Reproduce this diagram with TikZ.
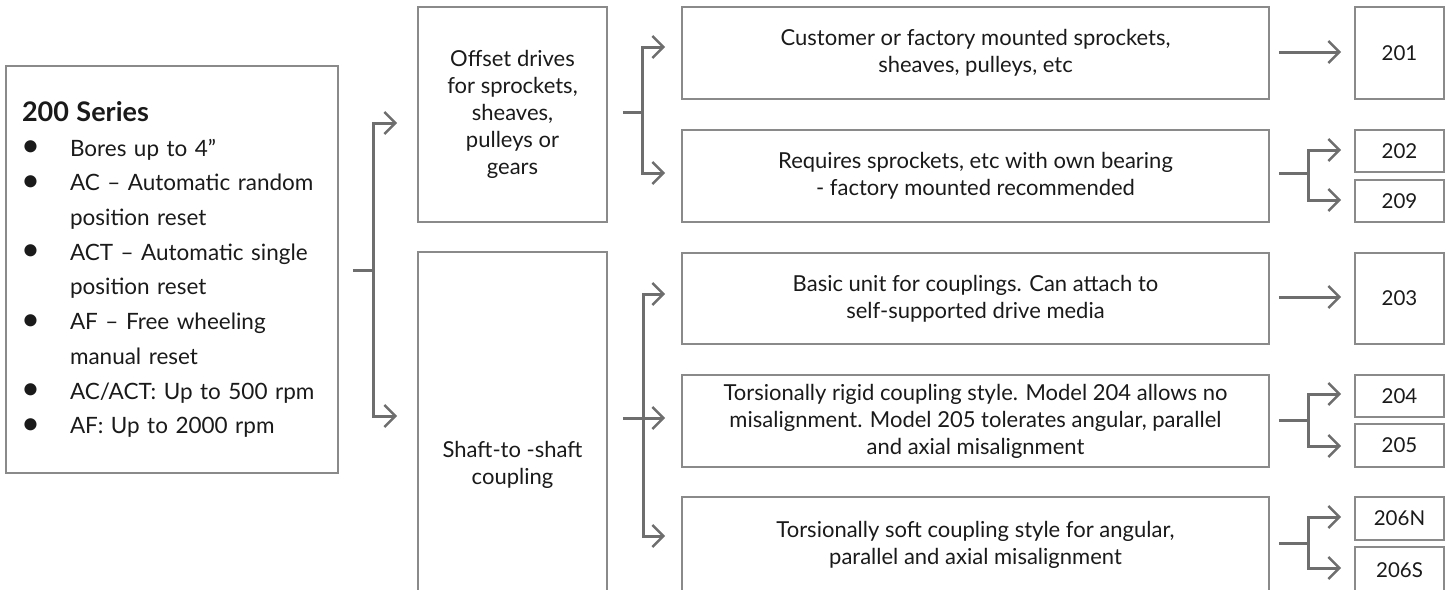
\documentclass[tikz,border=0pt]{standalone}
\usepackage{fontspec}
\usepackage{graphicx}
\setmainfont{Lato}
\usetikzlibrary{arrows.meta,calc}
\definecolor{boxgray}{HTML}{8A8A8A}
\definecolor{conngray}{HTML}{6E6E6E}
\definecolor{txt}{HTML}{1A1A1A}
\newcommand{\blt}{\makebox[48pt][l]{\hspace{-1pt}\raisebox{-0.5pt}{\scalebox{1.45}{•}}}}
\tikzset{
  boxnode/.style={draw=boxgray,line width=1.6pt,text=txt,align=center,inner sep=0pt,
    font=\fontsize{22}{27}\selectfont},
  smallbox/.style={boxnode,minimum width=89pt,font=\fontsize{20.5}{27}\selectfont},
  conn/.style={draw=conngray,line width=3pt},
  arr/.style={conn,-{Straight Barb[length=11pt,width=22pt,line width=2.5pt]}}
}
\begin{document}
\begin{tikzpicture}[x=1pt,y=-1pt]
\useasboundingbox (0,0) rectangle (1450,589);
\clip (0,0) rectangle (1450,589);
% left box
\node[boxnode,minimum width=332pt,minimum height=407pt,text width=300pt,inner xsep=16pt,align=left,
  font=\fontsize{22.5}{34.7}\selectfont] (left) at (172,269.5)
  {{\bfseries\fontsize{27}{36}\selectfont 200 Series}\\
   \blt Bores up to 4”\\
   \blt AC – Automatic random\\
   \hspace*{48pt}position reset\\
   \blt ACT – Automatic single\\
   \hspace*{48pt}position reset\\
   \blt AF – Free wheeling\\
   \hspace*{48pt}manual reset\\
   \blt AC/ACT: Up to 500 rpm\\
   \blt AF: Up to 2000 rpm};
% second column
\node[boxnode,minimum width=189pt,minimum height=215pt] (offset) at (512.5,114.5)
  {Offset drives\\for sprockets,\\sheaves,\\pulleys or\\gears};
\node[boxnode,minimum width=189pt,minimum height=344pt] (shaft) at (512.5,424) {};
\node[text=txt,align=center,font=\fontsize{22}{27}\selectfont] (shafttext) at (512.5,465)
  {Shaft-to -shaft\\coupling};
% third column
\node[boxnode,minimum width=587pt,minimum height=92pt] (cust) at (975.5,53)
  {Customer or factory mounted sprockets,\\sheaves, pulleys, etc};
\node[boxnode,minimum width=587pt,minimum height=92pt] (req) at (975.5,176)
  {Requires sprockets, etc with own bearing\\- factory mounted recommended};
\node[boxnode,minimum width=587pt,minimum height=91pt] (basic) at (975.5,298.5)
  {Basic unit for couplings. Can attach to\\self-supported drive media};
\node[boxnode,minimum width=587pt,minimum height=92pt] (rigid) at (975.5,421)
  {Torsionally rigid coupling style. Model 204 allows no\\misalignment. Model 205 tolerates angular, parallel\\and axial misalignment};
\node[boxnode,minimum width=587pt,minimum height=96pt] (soft) at (975.5,545)
  {Torsionally soft coupling style for angular,\\parallel and axial misalignment};
% model boxes
\node[smallbox,minimum height=92pt] (m201) at (1399.5,53) {201};
\node[smallbox,minimum height=42pt] (m202) at (1399.5,151) {202};
\node[smallbox,minimum height=42pt] (m209) at (1399.5,201) {209};
\node[smallbox,minimum height=91pt] (m203) at (1399.5,298.5) {203};
\node[smallbox,minimum height=42pt] (m204) at (1399.5,396) {204};
\node[smallbox,minimum height=43pt] (m205) at (1399.5,445.5) {205};
\node[smallbox,minimum height=43pt] (m206N) at (1399.5,518.5) {206N};
\node[smallbox,minimum height=46pt] (m206S) at (1399.5,570) {206S};
% fork coordinates
\coordinate (f1) at (373,270);
\coordinate (f2) at (642,112);
\coordinate (f3) at (643,418);
\coordinate (f4) at (1308,173);
\coordinate (f5) at (1308,420);
\coordinate (f6) at (1308,543);
% left -> offset / shaft
\draw[conn] ([xshift=14pt]left.east |- f1) -- (f1);
\draw[arr] (f1) |- ([xshift=-20pt]offset.west |- 0,123);
\draw[arr] (f1) |- ([xshift=-20pt]shaft.west |- 0,416);
% offset -> cust / req
\draw[conn] ([xshift=15pt]offset.east |- f2) -- (f2);
\draw[arr] (f2) |- ([xshift=-16pt]cust.west |- 0,47);
\draw[arr] (f2) |- ([xshift=-16pt]req.west |- 0,173);
% shaft -> basic / rigid / soft
\draw[arr] ([xshift=15pt]shaft.east |- f3) -- ([xshift=-16pt]rigid.west |- f3);
\draw[arr] (f3) |- ([xshift=-16pt]basic.west |- 0,294);
\draw[arr] (f3) |- ([xshift=-16pt]soft.west |- 0,536);
% right column
\draw[arr] ([xshift=9pt]cust.east |- 0,52) -- ([xshift=-13pt]m201.west |- 0,52);
\draw[conn] ([xshift=9pt]req.east |- f4) -- (f4);
\draw[arr] (f4) |- ([xshift=-13pt]m202.west |- 0,150);
\draw[arr] (f4) |- ([xshift=-13pt]m209.west |- 0,200);
\draw[arr] ([xshift=9pt]basic.east |- 0,297) -- ([xshift=-13pt]m203.west |- 0,297);
\draw[conn] ([xshift=9pt]rigid.east |- f5) -- (f5);
\draw[arr] (f5) |- ([xshift=-13pt]m204.west |- 0,394);
\draw[arr] (f5) |- ([xshift=-13pt]m205.west |- 0,446);
\draw[conn] ([xshift=9pt]soft.east |- f6) -- (f6);
\draw[arr] (f6) |- ([xshift=-13pt]m206N.west |- 0,517);
\draw[arr] (f6) |- ([xshift=-13pt]m206S.west |- 0,568);
\end{tikzpicture}
\end{document}
